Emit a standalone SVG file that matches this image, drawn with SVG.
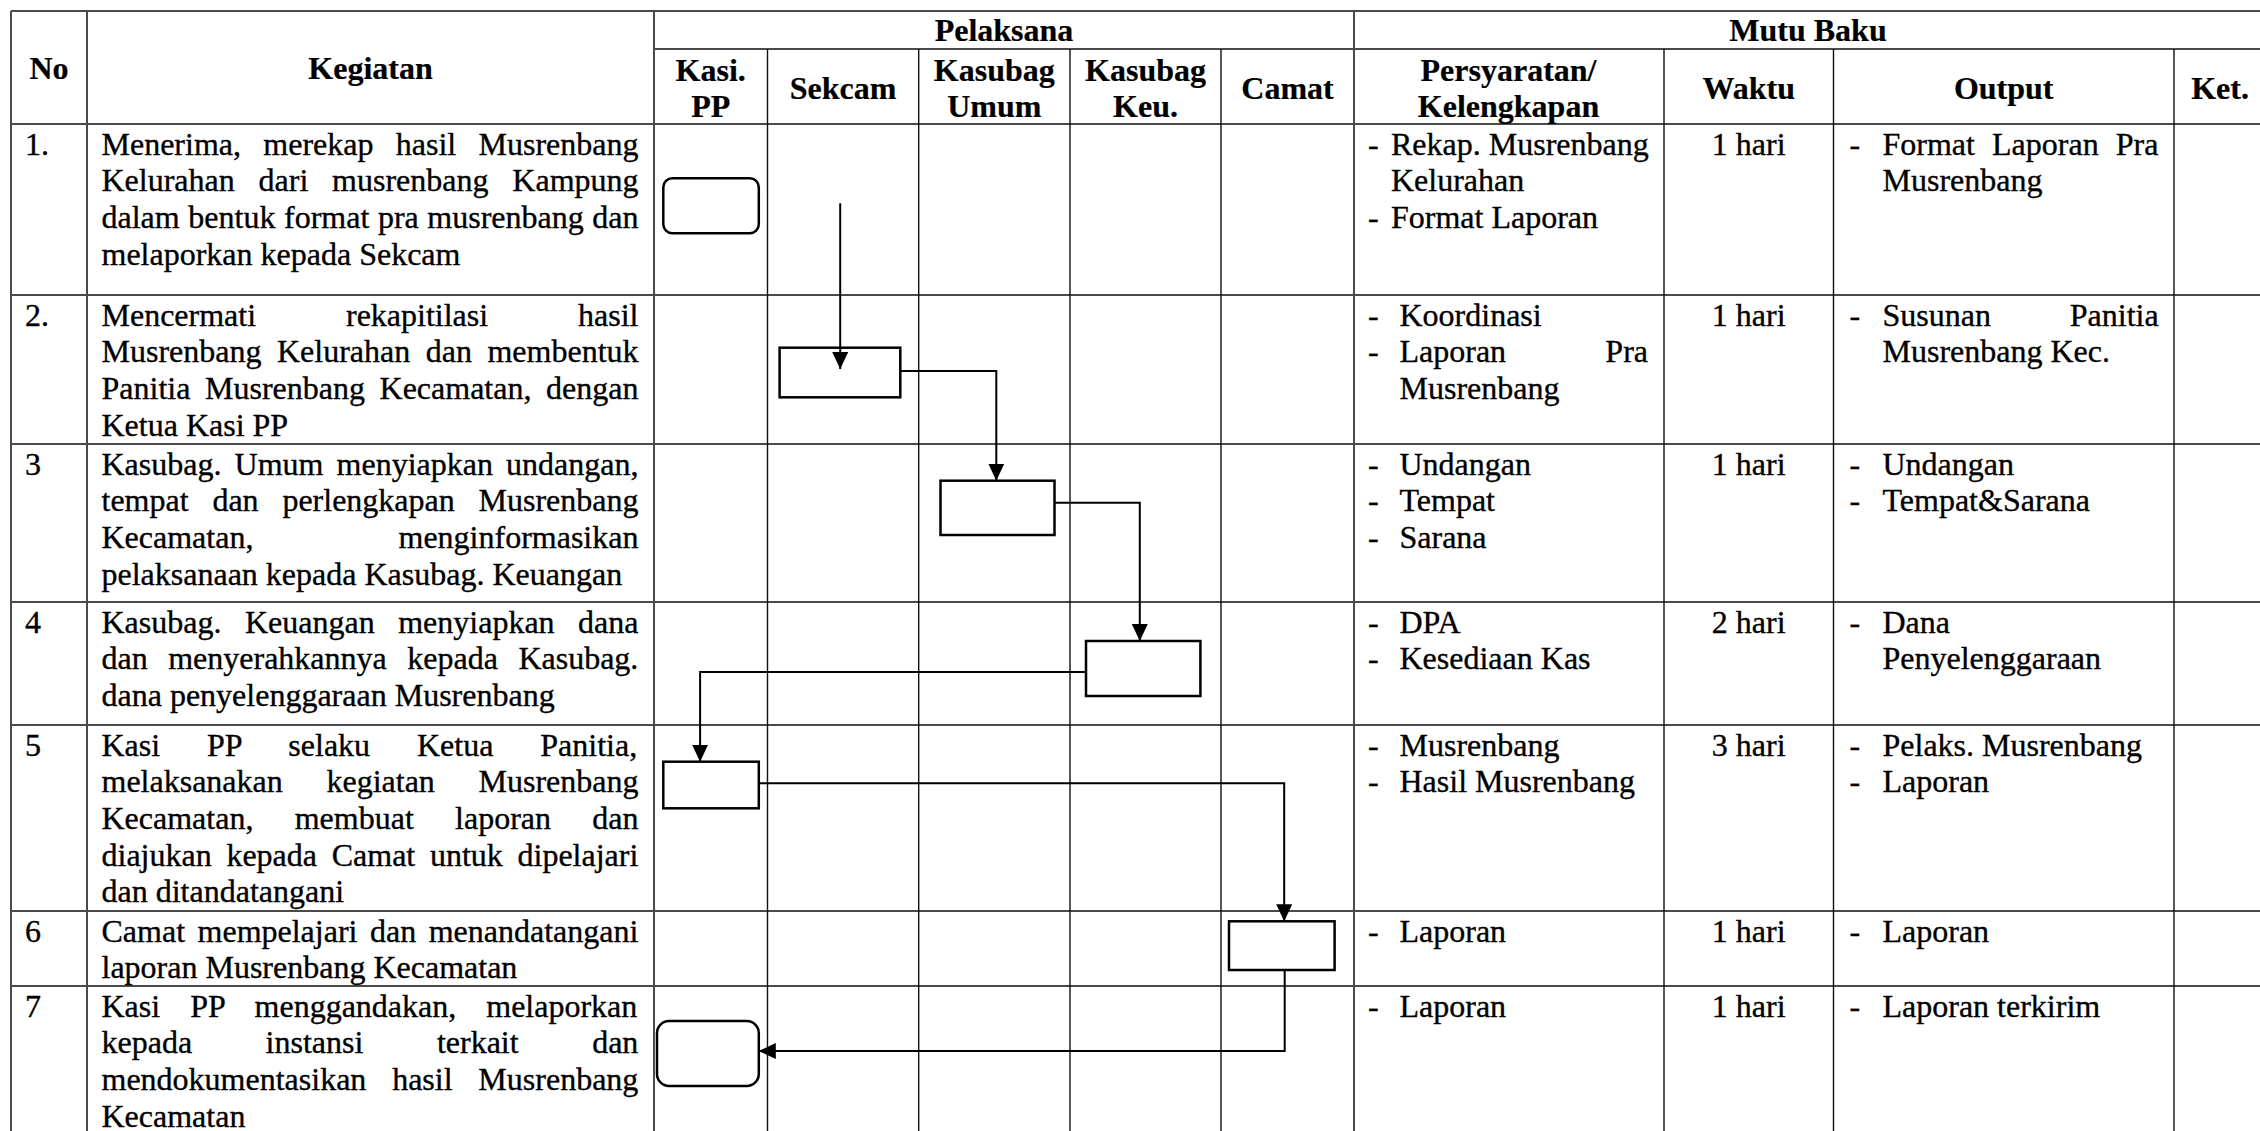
<svg xmlns="http://www.w3.org/2000/svg" width="2260" height="1131" viewBox="0 0 2260 1131" font-family="'Liberation Serif', 'Times New Roman', serif">
<style>
text{font-family:'Liberation Serif','Times New Roman',serif;font-size:32px;fill:#000;stroke:#000;stroke-width:0.35}
.b{font-weight:bold;stroke-width:0.2}
.m{text-anchor:middle}
.e{text-anchor:end}
.g{stroke:#4a4a4a;stroke-width:2;fill:none}
.k{stroke:#111;stroke-width:1.4;fill:none}
.n{fill:#fff;stroke:#000;stroke-width:2.5}
.c{fill:none;stroke:#000;stroke-width:2;marker-end:url(#ah)}
</style>
<defs>
<marker id="ah" markerUnits="userSpaceOnUse" markerWidth="18" markerHeight="16" refX="17" refY="8" orient="auto">
<path d="M0,0 L17,8 L0,16 z" fill="#000"/>
</marker>
</defs>
<rect width="2260" height="1131" fill="#fff"/>

<g id="grid">
<path class="g" d="M11,11 H2262 M654,49 H2262 M11,124 H2262 M11,295 H2262 M11,444 H2262 M11,602 H2262 M11,725 H2262 M11,911 H2262 M11,986 H2262"/>
<path class="g" d="M11,11 V1131 M87,11 V1131 M654,11 V1131 M1354,11 V1131 M2262,11 V1131"/>
<path class="k" d="M767.5,49 V1131 M918.7,49 V1131 M1070,49 V1131 M1221,49 V1131 M1664,49 V1131 M1833.5,49 V1131 M2174,49 V1131"/>
</g>

<g id="header">
<text class="b m" x="49" y="79">No</text>
<text class="b m" x="370.5" y="79">Kegiatan</text>
<text class="b m" x="1004" y="41">Pelaksana</text>
<text class="b m" x="1808" y="41">Mutu Baku</text>
<text class="b m" x="710.7" y="80.5">Kasi.</text>
<text class="b m" x="710.7" y="117">PP</text>
<text class="b m" x="843" y="98.5">Sekcam</text>
<text class="b m" x="994.3" y="80.5">Kasubag</text>
<text class="b m" x="994.3" y="117">Umum</text>
<text class="b m" x="1145.5" y="80.5">Kasubag</text>
<text class="b m" x="1145.5" y="117">Keu.</text>
<text class="b m" x="1287.5" y="98.5">Camat</text>
<text class="b m" x="1508.5" y="80.5">Persyaratan/</text>
<text class="b m" x="1508.5" y="117">Kelengkapan</text>
<text class="b m" x="1748.7" y="98.5">Waktu</text>
<text class="b m" x="2003.7" y="98.5">Output</text>
<text class="b m" x="2220" y="98.5">Ket.</text>
</g>

<g id="col-no">
<text x="25" y="154.5">1.</text>
<text x="25" y="325.5">2.</text>
<text x="25" y="474.5">3</text>
<text x="25" y="632.5">4</text>
<text x="25" y="755.5">5</text>
<text x="25" y="941.5">6</text>
<text x="25" y="1016.5">7</text>
</g>

<g id="col-kegiatan">
<text x="101.5" y="154.5" word-spacing="14.3">Menerima, merekap hasil Musrenbang</text>
<text x="101.5" y="191.2" word-spacing="15.8">Kelurahan dari musrenbang Kampung</text>
<text x="101.5" y="227.9" word-spacing="0.6">dalam bentuk format pra musrenbang dan</text>
<text x="101.5" y="264.6">melaporkan kepada Sekcam</text>

<text x="101.5" y="325.5" word-spacing="81.9">Mencermati rekapitilasi hasil</text>
<text x="101.5" y="362.2" word-spacing="7.5">Musrenbang Kelurahan dan membentuk</text>
<text x="101.5" y="398.9" word-spacing="6.6">Panitia Musrenbang Kecamatan, dengan</text>
<text x="101.5" y="435.6">Ketua Kasi PP</text>

<text x="101.5" y="474.5" word-spacing="5.1">Kasubag. Umum menyiapkan undangan,</text>
<text x="101.5" y="511.2" word-spacing="15.8">tempat dan perlengkapan Musrenbang</text>
<text x="101.5" y="547.9" word-spacing="137.1">Kecamatan, menginformasikan</text>
<text x="101.5" y="584.6">pelaksanaan kepada Kasubag. Keuangan</text>

<text x="101.5" y="632.5" word-spacing="15.5">Kasubag. Keuangan menyiapkan dana</text>
<text x="101.5" y="669.2" word-spacing="12.5">dan menyerahkannya kepada Kasubag.</text>
<text x="101.5" y="705.9">dana penyelenggaraan Musrenbang</text>

<text x="101.5" y="755.5" word-spacing="38.9">Kasi PP selaku Ketua Panitia,</text>
<text x="101.5" y="792.2" word-spacing="35.7">melaksanakan kegiatan Musrenbang</text>
<text x="101.5" y="828.9" word-spacing="33.3">Kecamatan, membuat laporan dan</text>
<text x="101.5" y="865.6" word-spacing="6.7">diajukan kepada Camat untuk dipelajari</text>
<text x="101.5" y="902.3">dan ditandatangani</text>

<text x="101.5" y="941.5" word-spacing="4.5">Camat mempelajari dan menandatangani</text>
<text x="101.5" y="978.2">laporan Musrenbang Kecamatan</text>

<text x="101.5" y="1016.5" word-spacing="22">Kasi PP menggandakan, melaporkan</text>
<text x="101.5" y="1053.2" word-spacing="65.5">kepada instansi terkait dan</text>
<text x="101.5" y="1089.9" word-spacing="17.8">mendokumentasikan hasil Musrenbang</text>
<text x="101.5" y="1126.6">Kecamatan</text>
</g>

<g id="col-persyaratan">
<text x="1368" y="154.5">-</text>
<text x="1391" y="154.5">Rekap. Musrenbang</text>
<text x="1391" y="191.2">Kelurahan</text>
<text x="1368" y="227.9">-</text>
<text x="1391" y="227.9">Format Laporan</text>

<text x="1368" y="325.5">-</text>
<text x="1399.5" y="325.5">Koordinasi</text>
<text x="1368" y="362.2">-</text>
<text x="1399.5" y="362.2">Laporan</text>
<text class="e" x="1648" y="362.2">Pra</text>
<text x="1399.5" y="398.9">Musrenbang</text>

<text x="1368" y="474.5">-</text>
<text x="1399.5" y="474.5">Undangan</text>
<text x="1368" y="511.2">-</text>
<text x="1399.5" y="511.2">Tempat</text>
<text x="1368" y="547.9">-</text>
<text x="1399.5" y="547.9">Sarana</text>

<text x="1368" y="632.5">-</text>
<text x="1399.5" y="632.5">DPA</text>
<text x="1368" y="669.2">-</text>
<text x="1399.5" y="669.2">Kesediaan Kas</text>

<text x="1368" y="755.5">-</text>
<text x="1399.5" y="755.5">Musrenbang</text>
<text x="1368" y="792.2">-</text>
<text x="1399.5" y="792.2">Hasil Musrenbang</text>

<text x="1368" y="941.5">-</text>
<text x="1399.5" y="941.5">Laporan</text>

<text x="1368" y="1016.5">-</text>
<text x="1399.5" y="1016.5">Laporan</text>
</g>

<g id="col-waktu">
<text class="m" x="1748.7" y="154.5">1 hari</text>
<text class="m" x="1748.7" y="325.5">1 hari</text>
<text class="m" x="1748.7" y="474.5">1 hari</text>
<text class="m" x="1748.7" y="632.5">2 hari</text>
<text class="m" x="1748.7" y="755.5">3 hari</text>
<text class="m" x="1748.7" y="941.5">1 hari</text>
<text class="m" x="1748.7" y="1016.5">1 hari</text>
</g>

<g id="col-output">
<text x="1849.5" y="154.5">-</text>
<text x="1882.5" y="154.5" word-spacing="9.1">Format Laporan Pra</text>
<text x="1882.5" y="191.2">Musrenbang</text>

<text x="1849.5" y="325.5">-</text>
<text x="1882.5" y="325.5">Susunan</text>
<text class="e" x="2158.7" y="325.5">Panitia</text>
<text x="1882.5" y="362.2">Musrenbang Kec.</text>

<text x="1849.5" y="474.5">-</text>
<text x="1882.5" y="474.5">Undangan</text>
<text x="1849.5" y="511.2">-</text>
<text x="1882.5" y="511.2">Tempat&amp;Sarana</text>

<text x="1849.5" y="632.5">-</text>
<text x="1882.5" y="632.5">Dana</text>
<text x="1882.5" y="669.2">Penyelenggaraan</text>

<text x="1849.5" y="755.5">-</text>
<text x="1882.5" y="755.5">Pelaks. Musrenbang</text>
<text x="1849.5" y="792.2">-</text>
<text x="1882.5" y="792.2">Laporan</text>

<text x="1849.5" y="941.5">-</text>
<text x="1882.5" y="941.5">Laporan</text>

<text x="1849.5" y="1016.5">-</text>
<text x="1882.5" y="1016.5">Laporan terkirim</text>
</g>

<g id="node-1"><rect class="n" x="663.3" y="178.3" width="95.5" height="55" rx="9"/></g>
<g id="node-2"><rect class="n" x="779.6" y="347.7" width="120.7" height="49.6"/></g>
<g id="node-3"><rect class="n" x="940.5" y="480.7" width="114" height="54.3"/></g>
<g id="node-4"><rect class="n" x="1086" y="641" width="114.4" height="55"/></g>
<g id="node-5"><rect class="n" x="663.3" y="761.7" width="95.5" height="46.6"/></g>
<g id="node-6"><rect class="n" x="1229" y="921.3" width="105.6" height="48.7"/></g>
<g id="node-7"><rect class="n" x="657" y="1021" width="101.8" height="65" rx="12"/></g>

<g id="connectors">
<path class="c" d="M840.2,203.3 V369"/>
<path class="c" d="M900.3,371 H996.3 V480.7"/>
<path class="c" d="M1054.4,502.7 H1139.8 V641"/>
<path class="c" d="M1086,672 H700.1 V761.7"/>
<path class="c" d="M758.8,783.3 H1284.2 V921.3"/>
<path class="c" d="M1284.7,970 V1051 H758.8"/>
</g>
</svg>
